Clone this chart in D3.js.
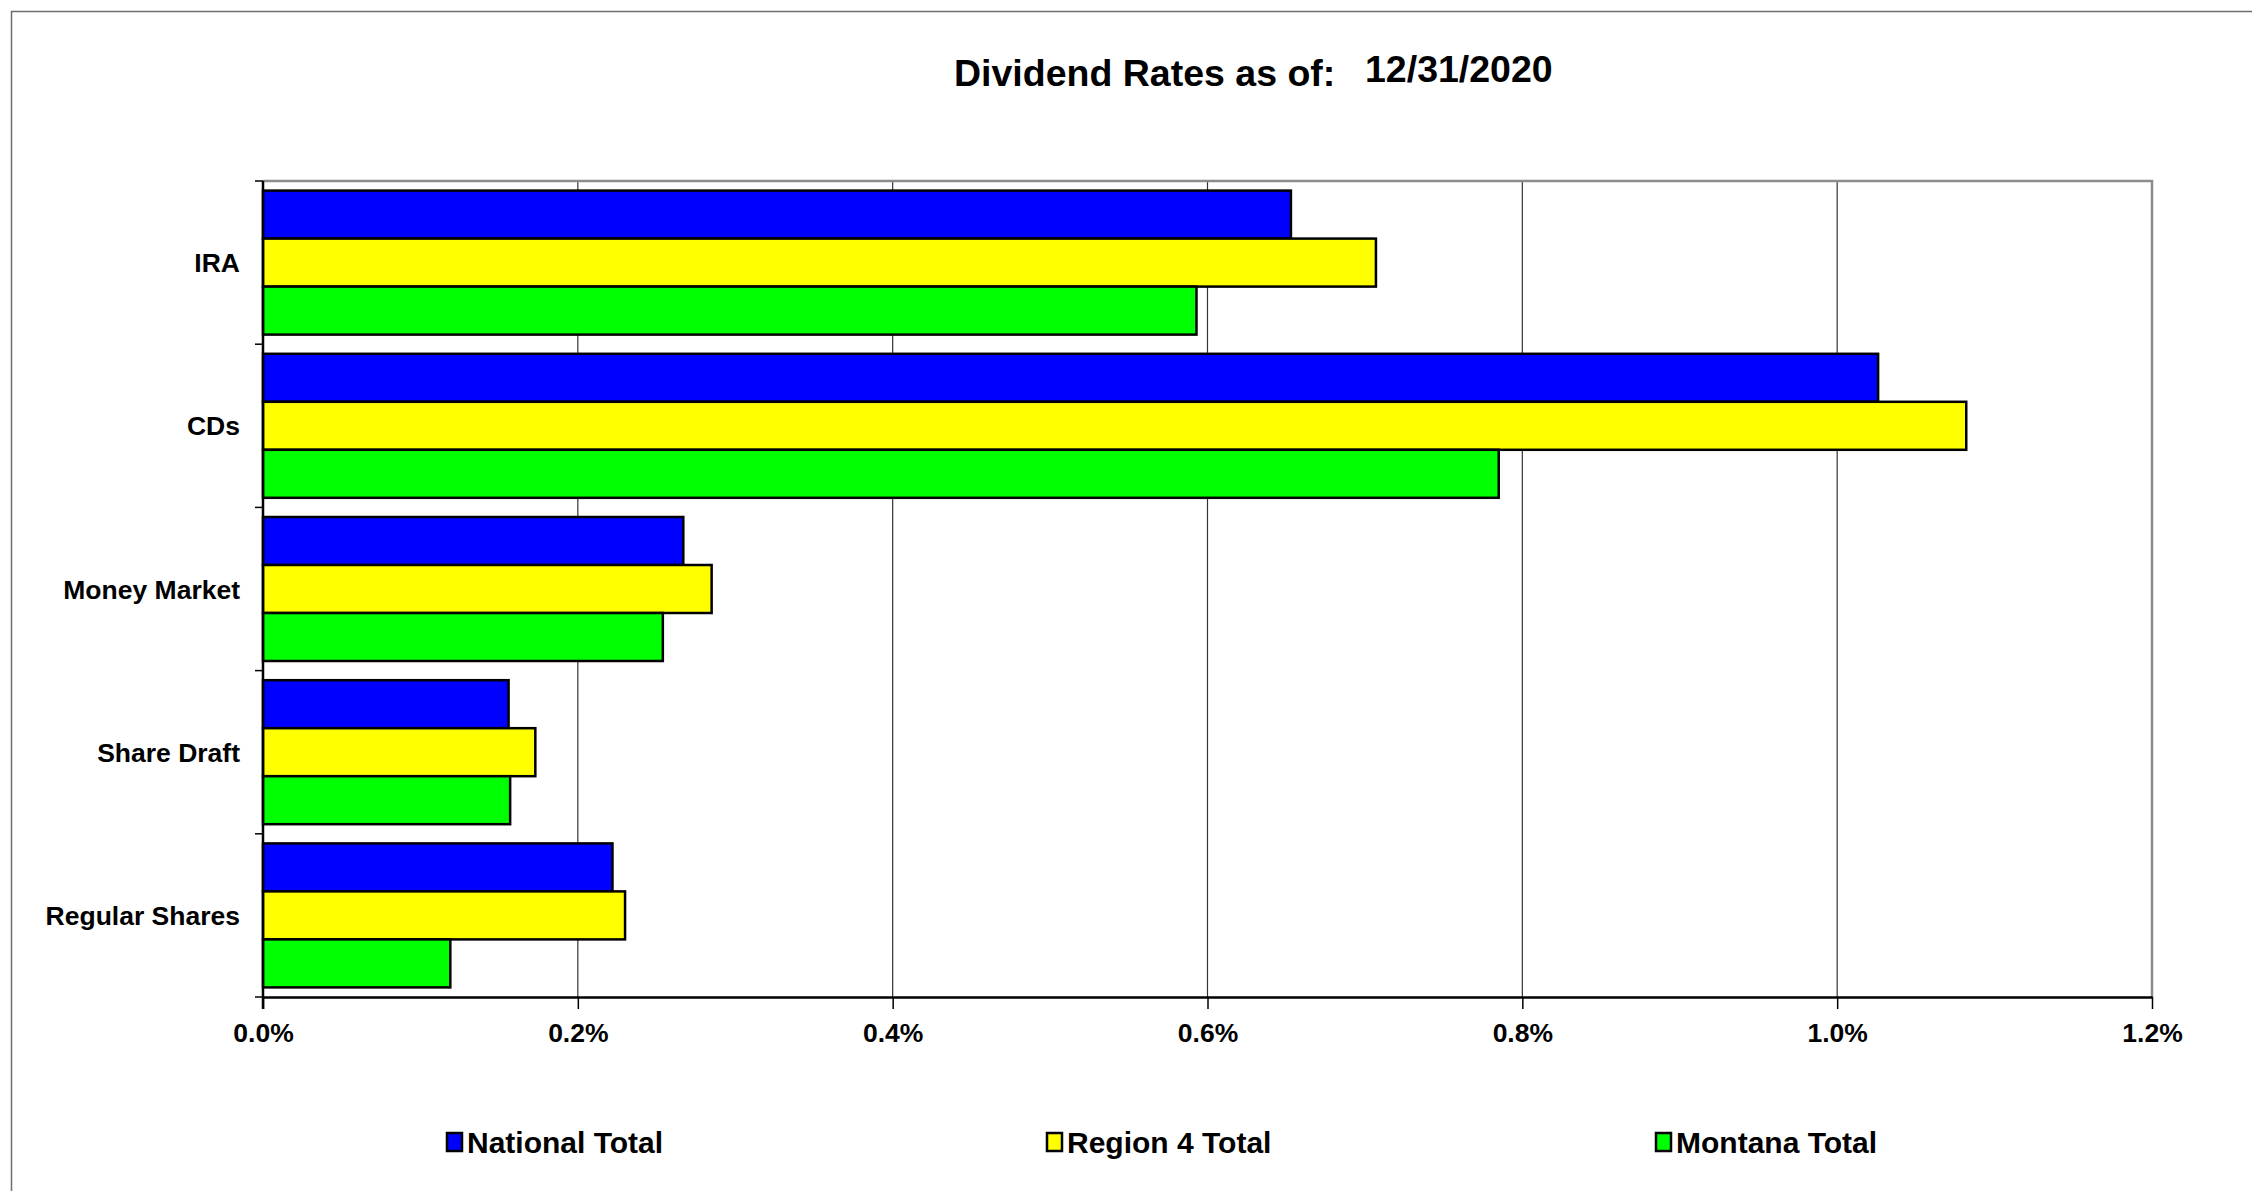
<!DOCTYPE html>
<html>
<head>
<meta charset="utf-8">
<script src="https://cdn.jsdelivr.net/npm/d3@7"></script>
<style>
  html, body { margin: 0; padding: 0; background: #ffffff; }
  svg { display: block; font-family: "Liberation Sans", Arial, sans-serif; }
</style>
</head>
<body>
<svg id="chart" width="2252" height="1191"></svg>
<script>
// Product categories, top to bottom
const categories = ["IRA", "CDs", "Money Market", "Share Draft", "Regular Shares"];

// Series names and colours
const seriesNames = ["National Total", "Region 4 Total", "Montana Total"];
const seriesColors = ["#0000ff", "#ffff00", "#00ff00"];

// Dividend rates (percent), one value per category
const nationalTotal = [0.653, 1.026, 0.267, 0.156, 0.222];
const region4Total  = [0.707, 1.082, 0.285, 0.173, 0.230];
const montanaTotal  = [0.593, 0.785, 0.254, 0.157, 0.119];

// X axis tick values
const xTicks = [0, 0.2, 0.4, 0.6, 0.8, 1.0, 1.2];

const titleText = "Dividend Rates as of:";
const dateText = "12/31/2020";

const seriesValues = [nationalTotal, region4Total, montanaTotal];

const svg = d3.select("#chart");
const W = 2252, H = 1191;

// Outer chart frame
svg.append("rect")
  .attr("x", 11.5).attr("y", 11.5)
  .attr("width", W + 20).attr("height", H + 20)
  .attr("fill", "#ffffff")
  .attr("stroke", "#6e6e6e").attr("stroke-width", 1.5);

const plot = { left: 263, right: 2152, top: 181, bottom: 997 };

const x = d3.scaleLinear().domain([0, 1.2]).range([plot.left, plot.right]);
const y = d3.scaleBand().domain(categories)
  .range([plot.top, plot.bottom])
  .paddingInner(0.1176).paddingOuter(0.0588);
const ySeries = d3.scaleBand().domain(d3.range(seriesNames.length))
  .range([0, y.bandwidth()]);

// Vertical gridlines
svg.append("g")
  .selectAll("line")
  .data(xTicks.slice(1, -1))
  .join("line")
  .attr("x1", d => x(d)).attr("x2", d => x(d))
  .attr("y1", plot.top).attr("y2", plot.bottom)
  .attr("stroke", "#333333").attr("stroke-width", 1.2);

// Plot area top and right border
svg.append("path")
  .attr("d", `M${plot.left},${plot.top}H${plot.right}V${plot.bottom}`)
  .attr("fill", "none").attr("stroke", "#8c8c8c").attr("stroke-width", 2.5);

// Bars
const rows = [];
categories.forEach((c, i) => {
  seriesValues.forEach((vals, s) => rows.push({ cat: c, s, v: vals[i] }));
});

svg.append("g")
  .selectAll("rect")
  .data(rows)
  .join("rect")
  .attr("x", x(0))
  .attr("y", d => y(d.cat) + ySeries(d.s))
  .attr("width", d => x(d.v) - x(0))
  .attr("height", ySeries.bandwidth())
  .attr("fill", d => seriesColors[d.s])
  .attr("stroke", "#000000").attr("stroke-width", 2.5);

// Bottom axis
const xAxis = d3.axisBottom(x)
  .tickValues(xTicks)
  .tickFormat(d => d.toFixed(1) + "%")
  .tickSize(12).tickSizeOuter(0).tickPadding(14);

const gx = svg.append("g")
  .attr("transform", `translate(0,${plot.bottom})`)
  .call(xAxis);
gx.select(".domain").attr("stroke", "#000000").attr("stroke-width", 2.5);
gx.selectAll(".tick line").attr("stroke", "#000000").attr("stroke-width", 1.5);
gx.selectAll(".tick text")
  .attr("font-size", 26.5).attr("font-weight", "bold")
  .attr("font-family", "'Liberation Sans', Arial, sans-serif")
  .attr("fill", "#000000");

// Left axis: ticks on category boundaries
const gy = svg.append("g");
gy.append("line")
  .attr("x1", plot.left).attr("x2", plot.left)
  .attr("y1", plot.top).attr("y2", plot.bottom + 12)
  .attr("stroke", "#000000").attr("stroke-width", 2.5);
const boundaries = categories.map(c => y(c) - y.step() * y.paddingInner() / 2)
  .concat([plot.bottom]);
gy.selectAll("line.tick")
  .data(boundaries)
  .join("line")
  .attr("class", "tick")
  .attr("x1", plot.left - 8).attr("x2", plot.left)
  .attr("y1", d => d).attr("y2", d => d)
  .attr("stroke", "#000000").attr("stroke-width", 1.5);

gy.selectAll("text")
  .data(categories)
  .join("text")
  .attr("x", plot.left - 23)
  .attr("y", d => y(d) + y.bandwidth() / 2)
  .attr("dy", "0.36em")
  .attr("text-anchor", "end")
  .attr("font-size", 26.5).attr("font-weight", "bold")
  .attr("fill", "#000000")
  .text(d => d);

// Title
svg.append("text")
  .attr("x", 954).attr("y", 86)
  .attr("font-size", 37.5).attr("font-weight", "bold")
  .attr("fill", "#000000")
  .text(titleText);
svg.append("text")
  .attr("x", 1365).attr("y", 82)
  .attr("font-size", 37.5).attr("font-weight", "bold")
  .attr("fill", "#000000")
  .text(dateText);

// Legend
const legendX = [447, 1047, 1656];
const legendY = 1142;
const lg = svg.append("g")
  .selectAll("g")
  .data(seriesNames)
  .join("g")
  .attr("transform", (d, i) => `translate(${legendX[i]},${legendY})`);
lg.append("rect")
  .attr("x", 0).attr("y", -9)
  .attr("width", 15).attr("height", 18)
  .attr("fill", (d, i) => seriesColors[i])
  .attr("stroke", "#000000").attr("stroke-width", 2.5);
lg.append("text")
  .attr("x", 20).attr("y", 0).attr("dy", "0.36em")
  .attr("font-size", 30).attr("font-weight", "bold")
  .attr("fill", "#000000")
  .text(d => d);
</script>
</body>
</html>
